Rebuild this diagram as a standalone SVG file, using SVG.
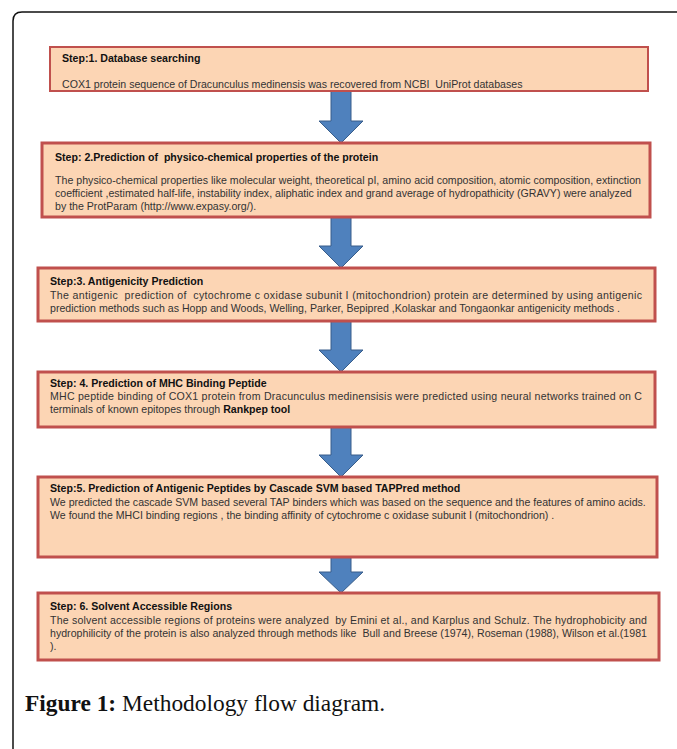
<svg xmlns="http://www.w3.org/2000/svg" width="677" height="749" viewBox="0 0 677 749">
<style>
.box{fill:#fcd5b4;stroke:#c0504d;stroke-width:3}
.t{font-family:"Liberation Sans",Arial,sans-serif;font-size:10.6px;fill:#333}
.b{font-family:"Liberation Sans",Arial,sans-serif;font-size:10.6px;font-weight:bold;fill:#111}
.arr{fill:#4f81bd;stroke:#385d8a;stroke-width:1}
.cap{font-family:"Liberation Serif","Times New Roman",serif;font-size:23.4px;fill:#111}
</style>
<rect width="677" height="749" fill="#fff"/>
<path d="M13 749 V21 Q13 12 22 12 H677" fill="none" stroke="#111" stroke-width="1.5"/>
<g id="connectors">
<path class="arr" d="M331 91 H351 V121 H363 L341 143 L319 121 H331 Z"/>
<path class="arr" d="M331 217 H351 V246 H363 L341 268 L319 246 H331 Z"/>
<path class="arr" d="M331 321 H351 V350 H363 L341 372 L319 350 H331 Z"/>
<path class="arr" d="M331 427 H351 V455 H363 L341 477 L319 455 H331 Z"/>
<path class="arr" d="M331 557 H351 V572 H363 L341 593 L319 572 H331 Z"/>
</g>
<g id="step1">
<rect class="box" x="50" y="47" width="598" height="44" style="stroke-width:2"/>
<text class="b" x="62" y="62">Step:1. Database searching</text>
<text class="t" x="62" y="88" xml:space="preserve">COX1 protein sequence of Dracunculus medinensis was recovered from NCBI  UniProt databases</text>
</g>
<g id="step2">
<rect class="box" x="42" y="143" width="608" height="74"/>
<text class="b" x="55" y="161" xml:space="preserve">Step: 2.Prediction of  physico-chemical properties of the protein</text>
<text class="t" x="55" y="184" textLength="586" lengthAdjust="spacing">The physico-chemical properties like molecular weight, theoretical pI, amino acid composition, atomic composition, extinction</text>
<text class="t" x="55" y="197">coefficient ,estimated half-life, instability index, aliphatic index and grand average of hydropathicity (GRAVY) were analyzed</text>
<text class="t" x="55" y="210">by the ProtParam (http://www.expasy.org/).</text>
</g>
<g id="step3">
<rect class="box" x="38" y="268" width="617" height="53"/>
<text class="b" x="50" y="285">Step:3. Antigenicity Prediction</text>
<text class="t" x="50" y="299" textLength="592" lengthAdjust="spacing" xml:space="preserve">The antigenic  prediction of  cytochrome c oxidase subunit I (mitochondrion) protein are determined by using antigenic</text>
<text class="t" x="50" y="312">prediction methods such as Hopp and Woods, Welling, Parker, Bepipred ,Kolaskar and Tongaonkar antigenicity methods .</text>
</g>
<g id="step4">
<rect class="box" x="38" y="372" width="617" height="55"/>
<text class="b" x="50" y="387">Step: 4. Prediction of MHC Binding Peptide</text>
<text class="t" x="50" y="400" textLength="592" lengthAdjust="spacing">MHC peptide binding of COX1 protein from Dracunculus medinensisis were predicted using neural networks trained on C</text>
<text class="t" x="50" y="413">terminals of known epitopes through <tspan class="b">Rankpep tool</tspan></text>
</g>
<g id="step5">
<rect class="box" x="38" y="477" width="619" height="80"/>
<text class="b" x="50" y="492">Step:5. Prediction of Antigenic Peptides by Cascade SVM based TAPPred method</text>
<text class="t" x="50" y="506">We predicted the cascade SVM based several TAP binders which was based on the sequence and the features of amino acids.</text>
<text class="t" x="50" y="519">We found the MHCI binding regions , the binding affinity of cytochrome c oxidase subunit I (mitochondrion) .</text>
</g>
<g id="step6">
<rect class="box" x="38" y="593" width="621" height="67"/>
<text class="b" x="50" y="610">Step: 6. Solvent Accessible Regions</text>
<text class="t" x="50" y="624" textLength="597" lengthAdjust="spacing" xml:space="preserve">The solvent accessible regions of proteins were analyzed  by Emini et al., and Karplus and Schulz. The hydrophobicity and</text>
<text class="t" x="50" y="637" textLength="597" lengthAdjust="spacing" xml:space="preserve">hydrophilicity of the protein is also analyzed through methods like  Bull and Breese (1974), Roseman (1988), Wilson et al.(1981</text>
<text class="t" x="50" y="650">).</text>
</g>
<text class="cap" x="25" y="711"><tspan font-weight="bold">Figure 1:</tspan> Methodology flow diagram.</text>
</svg>
